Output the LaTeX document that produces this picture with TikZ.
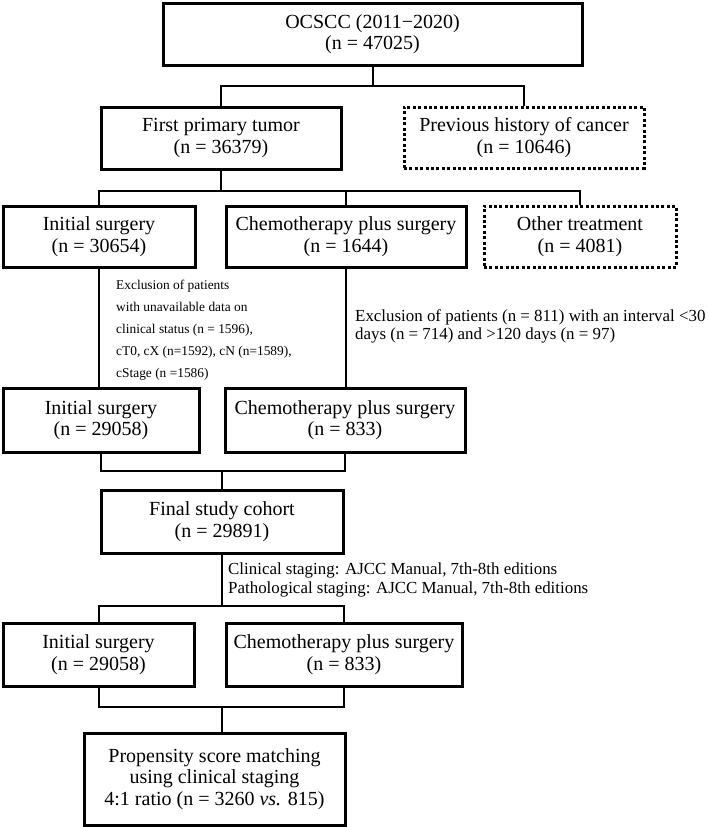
\documentclass[tikz,border=0pt]{standalone}
\usepackage{fontspec}
\setmainfont{Liberation Serif}
\newcommand\boxfont{\fontsize{20}{21.5}\selectfont}
\newcommand\smallnote{\fontsize{13.4}{22}\selectfont}
\newcommand\midnote{\fontsize{16.9}{18.5}\selectfont}
\begin{document}
\begin{tikzpicture}[x=1pt,y=1pt,
  box/.style={draw, line width=3pt, align=center, inner sep=0pt, font=\boxfont},
  dotbox/.style={box, dash pattern=on 3pt off 2.4pt},
  conn/.style={line width=2pt, line join=miter},
  note/.style={anchor=north west, inner sep=0pt, align=left}]
\useasboundingbox (0,0) rectangle (709,-827);
% boxes
\node[box, minimum width=419pt, minimum height=62pt] (top) at (372.5,-34) {OCSCC (2011−2020)\\(n = 47025)};
\node[box, minimum width=240pt, minimum height=62pt] (fpt) at (221,-138) {First primary tumor\\(n = 36379)};
\node[dotbox, minimum width=240pt, minimum height=61pt] (prev) at (524,-137.5) {Previous history of cancer\\(n = 10646)};
\node[box, minimum width=192pt, minimum height=61pt] (init1) at (99,-236.5) {Initial surgery\\(n = 30654)};
\node[box, minimum width=240pt, minimum height=61pt] (chemo1) at (346,-236.5) {Chemotherapy plus surgery\\(n = 1644)};
\node[dotbox, minimum width=192pt, minimum height=61pt] (other) at (580,-236.5) {Other treatment\\(n = 4081)};
\node[box, minimum width=196pt, minimum height=64pt] (init2) at (101,-420) {Initial surgery\\(n = 29058)};
\node[box, minimum width=240pt, minimum height=64pt] (chemo2) at (345,-420) {Chemotherapy plus surgery\\(n = 833)};
\node[box, minimum width=242pt, minimum height=63pt] (final) at (222,-521.5) {Final study cohort\\(n = 29891)};
\node[box, minimum width=191pt, minimum height=63pt] (init3) at (98.5,-654.5) {Initial surgery\\(n = 29058)};
\node[box, minimum width=236pt, minimum height=63pt] (chemo3) at (344,-654.5) {Chemotherapy plus surgery\\(n = 833)};
\node[box, minimum width=261pt, minimum height=92pt] (prop) at (214.5,-779) {Propensity score matching\\using clinical staging\\4:1 ratio (n = 3260 \textit{vs.} 815)};
% notes
\node[note, font=\smallnote] (excl1) at (116,-280) {Exclusion of patients\\with unavailable data on\\clinical status (n = 1596),\\cT0, cX (n=1592), cN (n=1589),\\cStage (n =1586)};
\node[note, font=\midnote] (excl2) at (355,-309) {Exclusion of patients (n = 811) with an interval <30\\days (n = 714) and >120 days (n = 97)};
\node[note, font=\midnote] (stage) at (228,-563) {Clinical staging: AJCC Manual, 7th-8th editions\\Pathological staging: AJCC Manual, 7th-8th editions};
% junction coordinates
\coordinate (j1) at (372.5,-86);
\coordinate (j2) at (221,-191);
\coordinate (j3) at (222,-471);
\coordinate (j4) at (222,-606);
\coordinate (j5) at (222,-707);
% connectors
\draw[conn] (top.south) -- (j1);
\draw[conn] (fpt.north) -- (fpt.north |- j1) -- (prev.north |- j1) -- (prev.north);
\draw[conn] (fpt.south) -- (j2);
\draw[conn] (init1.north) -- (init1.north |- j2) -- (other.north |- j2) -- (other.north);
\draw[conn] (chemo1.north |- j2) -- (chemo1.north);
\draw[conn] (init1.south) -- (init1.south |- init2.north);
\draw[conn] (chemo1.south) -- (chemo1.south |- chemo2.north);
\draw[conn] (init2.south) -- (init2.south |- j3) -- (chemo2.south |- j3) -- (chemo2.south);
\draw[conn] (j3) -- (final.north);
\draw[conn] (final.south) -- (j4);
\draw[conn] (init3.north) -- (init3.north |- j4) -- (chemo3.north |- j4) -- (chemo3.north);
\draw[conn] (init3.south) -- (init3.south |- j5) -- (chemo3.south |- j5) -- (chemo3.south);
\draw[conn] (j5) -- (j5 |- prop.north);
\end{tikzpicture}
\end{document}
